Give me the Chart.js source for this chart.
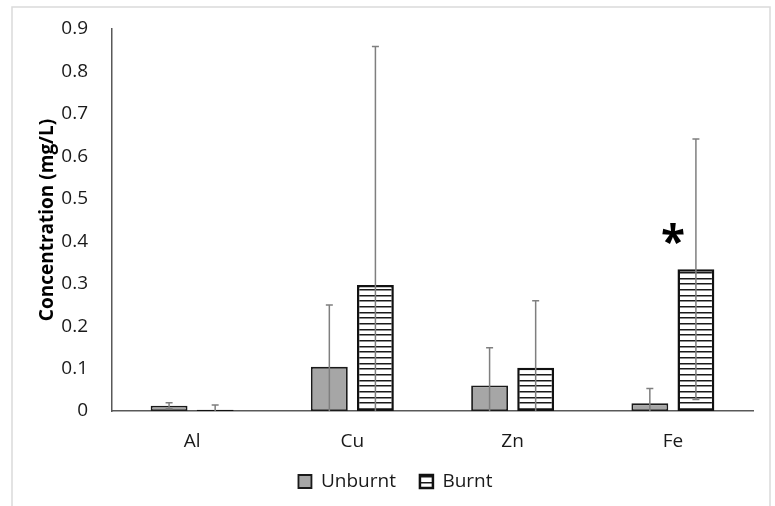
<!DOCTYPE html>
<html>
<head>
<meta charset="utf-8">
<script src="https://cdn.jsdelivr.net/npm/chart.js@4/dist/chart.umd.min.js"></script>
<style>
  html, body { margin: 0; padding: 0; background: #fff; }
  #wrap { width: 775px; height: 506px; position: relative; }
</style>
</head>
<body>
<div id="wrap"><canvas id="c" width="775" height="506"></canvas></div>
<script>
const categories = ['Al', 'Cu', 'Zn', 'Fe'];
const unburntValues = [0.0125, 0.104, 0.060, 0.018];
const unburntErrors = [0.007, 0.146, 0.089, 0.035];
const burntValues = [0.003, 0.297, 0.102, 0.334];
const burntErrors = [0.011, 0.562, 0.158, 0.307];
const yTickLabels = ['0', '0.1', '0.2', '0.3', '0.4', '0.5', '0.6', '0.7', '0.8', '0.9'];
const seriesNames = ['Unburnt', 'Burnt'];
const significanceMarks = [{ category: 'Fe', value: 0.418, text: '*' }];

const FONT = "'Open Sans', 'Liberation Sans', sans-serif";
const TEXT = '#1a1a1a';

function makeHatch() {
  const p = document.createElement('canvas');
  p.width = 4; p.height = 17;
  const g = p.getContext('2d');
  g.fillStyle = '#ffffff';
  g.fillRect(0, 0, 4, 17);
  g.fillStyle = '#1a1a1a';
  [0, 6, 11].forEach(y => g.fillRect(0, y, 4, 1.5));
  const ctx = document.getElementById('c').getContext('2d');
  return ctx.createPattern(p, 'repeat');
}
const hatch = makeHatch();
const errorsByDataset = [unburntErrors, burntErrors];

const framePlugin = {
  id: 'frame',
  beforeDraw(chart) {
    const ctx = chart.ctx;
    ctx.save();
    ctx.fillStyle = '#fff';
    ctx.fillRect(0, 0, chart.width, chart.height);
    ctx.strokeStyle = '#dadada';
    ctx.lineWidth = 1.5;
    ctx.strokeRect(12, 7, 758, 530);
    ctx.restore();
  }
};

const errorBarPlugin = {
  id: 'errorBars',
  afterDatasetsDraw(chart) {
    const ctx = chart.ctx;
    const ys = chart.scales.y;
    ctx.save();
    ctx.strokeStyle = '#7f7f7f';
    ctx.lineWidth = 1.5;
    chart.data.datasets.forEach((ds, di) => {
      const meta = chart.getDatasetMeta(di);
      meta.data.forEach((el, i) => {
        const v = ds.data[i];
        const e = errorsByDataset[di][i];
        const x = el.x;
        const yHi = ys.getPixelForValue(v + e);
        const lo = v - e;
        const yLo = ys.getPixelForValue(Math.max(lo, 0));
        const cap = 3.5;
        ctx.beginPath();
        ctx.moveTo(x, yLo);
        ctx.lineTo(x, yHi);
        ctx.moveTo(x - cap, yHi);
        ctx.lineTo(x + cap, yHi);
        if (lo >= 0) {
          ctx.moveTo(x - cap, yLo);
          ctx.lineTo(x + cap, yLo);
        }
        ctx.stroke();
      });
    });
    ctx.restore();
  }
};

const markPlugin = {
  id: 'marks',
  afterDatasetsDraw(chart) {
    const ctx = chart.ctx;
    const xs = chart.scales.x, ys = chart.scales.y;
    ctx.save();
    ctx.fillStyle = '#000';
    ctx.font = "bold 44px 'Open Sans', sans-serif";
    ctx.textAlign = 'center';
    ctx.textBaseline = 'alphabetic';
    significanceMarks.forEach(m => {
      const x = xs.getPixelForValue(categories.indexOf(m.category));
      const y = ys.getPixelForValue(m.value);
      const mt = ctx.measureText(m.text);
      const dy = (mt.actualBoundingBoxAscent - mt.actualBoundingBoxDescent) / 2;
      ctx.fillText(m.text, x, y + dy);
    });
    ctx.restore();
  }
};

const legendShift = {
  id: 'legendShift',
  afterLayout(chart) {
    const lg = chart.legend;
    if (lg) { lg.left += 1; lg.right += 1; lg.top -= 5; lg.bottom -= 5; }
  }
};

new Chart(document.getElementById('c'), {
  type: 'bar',
  data: {
    labels: categories,
    datasets: [
      {
        label: seriesNames[0],
        data: unburntValues,
        backgroundColor: '#a6a6a6',
        borderColor: '#1a1a1a',
        borderWidth: 1.8,
        borderSkipped: false,
        categoryPercentage: 0.575,
        barPercentage: 0.8
      },
      {
        label: seriesNames[1],
        data: burntValues,
        backgroundColor: hatch,
        borderColor: '#111111',
        borderWidth: 2.5,
        borderSkipped: false,
        categoryPercentage: 0.575,
        barPercentage: 0.8
      }
    ]
  },
  options: {
    responsive: false,
    animation: false,
    events: [],
    layout: { padding: { left: 36, right: 22, top: 29, bottom: 0 } },
    plugins: {
      legend: {
        position: 'bottom',
        labels: {
          boxWidth: 13,
          boxHeight: 13,
          padding: 24,
          color: TEXT,
          font: { family: FONT, size: 19 }
        }
      },
      tooltip: { enabled: false }
    },
    scales: {
      x: {
        grid: { display: false },
        border: { display: true, color: '#595959', width: 1.5 },
        ticks: { color: TEXT, padding: 11, font: { family: FONT, size: 19 } },
        afterFit(s) { s.height = 42; }
      },
      y: {
        min: 0,
        max: 0.9,
        grid: { display: false },
        border: { display: true, color: '#595959', width: 1.5 },
        ticks: {
          stepSize: 0.1,
          padding: 16,
          color: TEXT,
          font: { family: FONT, size: 19 },
          callback: (v, i) => yTickLabels[i]
        },
        title: {
          display: true,
          text: 'Concentration (mg/L)',
          color: '#000',
          padding: 0,
          font: { family: FONT, size: 19, weight: 'bold' }
        },
        afterFit(s) { s.width = 76; s.paddingTop = 0; s.paddingBottom = 0; }
      }
    }
  },
  plugins: [framePlugin, errorBarPlugin, markPlugin, legendShift]
});
</script>
</body>
</html>
